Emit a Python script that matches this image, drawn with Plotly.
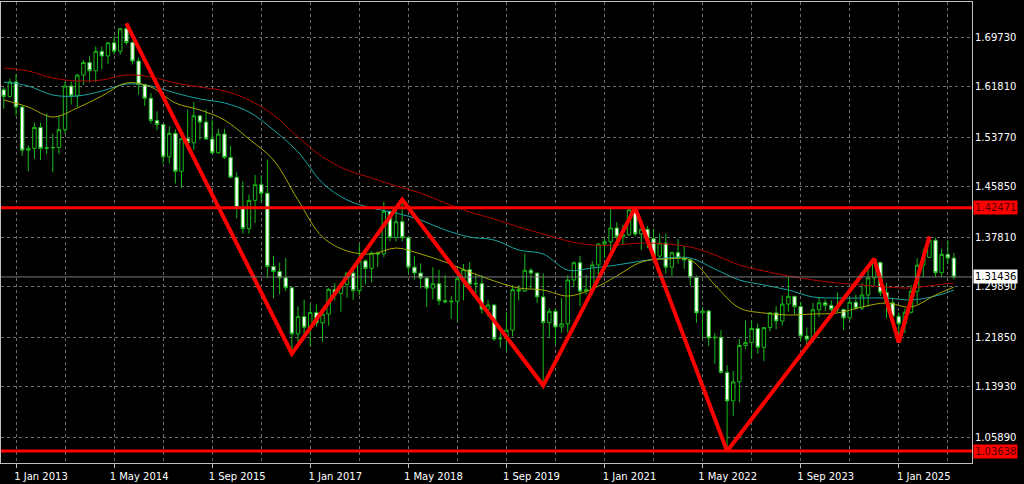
import plotly.graph_objects as go
import pandas as pd

# ---- data (GBPUSD monthly) ----
months = [p.strftime("%Y-%m") for p in pd.period_range("2012-11", "2025-10", freq="M")]

opens = [1.6130,1.6025,1.6255,1.5855,1.5165,1.5195,1.5530,1.5195,1.5205,1.5210,1.5495,1.6190,1.6035,1.6365,
         1.6565,1.6435,1.6745,1.6670,1.6880,1.6745,1.7105,1.6885,1.6590,1.6215,1.5995,1.5640,
         1.5575,1.5060,1.5435,1.4830,1.5350,1.5285,1.5715,1.5615,1.5345,1.5125,1.5425,1.5050,
         1.4735,1.4250,1.3915,1.4365,1.4615,1.4480,1.3310,1.3230,1.3130,1.2970,1.2235,1.2510,
         1.2340,1.2575,1.2410,1.2550,1.2945,1.2880,1.3025,1.3205,1.2925,1.3400,1.3280,1.3525,
         1.3510,1.4190,1.3775,1.4025,1.3770,1.3300,1.3205,1.3125,1.2965,1.3035,1.2765,1.2745,
         1.2755,1.3115,1.3260,1.3030,1.3040,1.2630,1.2695,1.2155,1.2160,1.2295,1.2940,1.2920,
         1.3250,1.3205,1.2825,1.2415,1.2595,1.2345,1.2395,1.3095,1.3370,1.2915,1.2945,1.3335,
         1.3670,1.3705,1.3925,1.3785,1.3815,1.4215,1.3830,1.3905,1.3755,1.3475,1.3685,1.3300,
         1.3530,1.3445,1.3415,1.3135,1.2570,1.2600,1.2170,1.2180,1.1620,1.1165,1.1470,1.2050,
         1.2095,1.2320,1.2020,1.2335,1.2570,1.2440,1.2710,1.2835,1.2670,1.2200,1.2150,1.2620,
         1.2730,1.2690,1.2625,1.2625,1.2490,1.2740,1.2645,1.2855,1.3130,1.3375,1.2895,1.2730,
         1.2515,1.2395,1.2580,1.2915,1.3330,1.3455,1.3730,1.3210,1.3505,1.3445]
highs = [1.6172,1.6309,1.6381,1.5880,1.5245,1.5605,1.5605,1.5752,1.5429,1.5717,1.6260,1.6260,1.6385,1.6605,
         1.6668,1.6823,1.6822,1.6883,1.6996,1.7110,1.7192,1.6905,1.6644,1.6226,1.6078,1.5786,
         1.5588,1.5552,1.5498,1.5498,1.5815,1.5930,1.5730,1.5819,1.5659,1.5509,1.5509,1.5240,
         1.4815,1.4668,1.4459,1.4770,1.4770,1.5018,1.3482,1.3373,1.3445,1.2975,1.2675,1.2775,
         1.2706,1.2706,1.2615,1.2965,1.3047,1.3030,1.3212,1.3268,1.3657,1.3420,1.3550,1.3550,
         1.4345,1.4195,1.4245,1.4377,1.3800,1.3473,1.3362,1.3140,1.3297,1.3257,1.3176,1.2840,
         1.3215,1.3350,1.3382,1.3197,1.3177,1.2783,1.2709,1.2249,1.2582,1.3012,1.3012,1.3515,
         1.3285,1.3210,1.3200,1.2647,1.2647,1.2813,1.3171,1.3395,1.3482,1.3177,1.3398,1.3675,
         1.3759,1.4241,1.4017,1.3976,1.4234,1.4250,1.3983,1.3958,1.3913,1.3834,1.3834,1.3546,
         1.3749,1.3644,1.3437,1.3167,1.2667,1.2617,1.2246,1.2293,1.1737,1.1646,1.2154,1.2447,
         1.2448,1.2402,1.2343,1.2584,1.2680,1.2849,1.3143,1.2840,1.2746,1.2337,1.2733,1.2828,
         1.2785,1.2773,1.2894,1.2635,1.2800,1.2860,1.3044,1.3266,1.3434,1.3391,1.3048,1.2811,
         1.2576,1.2640,1.3015,1.3444,1.3593,1.3789,1.3770,1.3595,1.3727,1.3527]
lows = [1.5827,1.6003,1.5720,1.5072,1.4831,1.5030,1.5007,1.5103,1.4813,1.5102,1.5425,1.5895,1.5855,1.6210,
        1.6250,1.6253,1.6460,1.6540,1.6692,1.6692,1.6848,1.6535,1.6051,1.5875,1.5590,1.5486,
        1.4952,1.4953,1.4634,1.4565,1.5170,1.5170,1.5330,1.5330,1.5107,1.5107,1.5027,1.4725,
        1.4080,1.3835,1.3835,1.4006,1.4331,1.3122,1.2798,1.2865,1.2914,1.1920,1.2082,1.2200,
        1.2050,1.2345,1.2108,1.2365,1.2772,1.2589,1.2810,1.2774,1.2854,1.3027,1.3062,1.3302,
        1.3457,1.3712,1.3711,1.3711,1.3205,1.3100,1.2957,1.2662,1.2785,1.2695,1.2723,1.2477,
        1.2440,1.2772,1.2945,1.2866,1.2558,1.2507,1.2119,1.2015,1.1958,1.2194,1.2769,1.2902,
        1.2954,1.2725,1.1410,1.2165,1.2076,1.2252,1.2254,1.2981,1.2676,1.2863,1.2854,1.3134,
        1.3451,1.3567,1.3670,1.3669,1.3801,1.3787,1.3572,1.3602,1.3412,1.3434,1.3194,1.3161,
        1.3358,1.3272,1.3001,1.2410,1.2155,1.2041,1.1760,1.1600,1.0364,1.0925,1.1146,1.1991,
        1.1840,1.1915,1.1803,1.2275,1.2308,1.2369,1.2590,1.2547,1.2110,1.2037,1.2096,1.2500,
        1.2597,1.2518,1.2575,1.2299,1.2446,1.2613,1.2614,1.2665,1.3001,1.2840,1.2487,1.2475,
        1.2100,1.2249,1.2560,1.2708,1.3140,1.3445,1.3140,1.3142,1.3350,1.3107]
closes = [1.6025,1.6255,1.5855,1.5165,1.5195,1.5530,1.5195,1.5205,1.5210,1.5495,1.6190,1.6035,1.6365,1.6565,
          1.6435,1.6745,1.6670,1.6880,1.6745,1.7105,1.6885,1.6590,1.6215,1.5995,1.5640,1.5575,
          1.5060,1.5435,1.4830,1.5350,1.5285,1.5715,1.5615,1.5345,1.5125,1.5425,1.5050,1.4735,
          1.4250,1.3915,1.4365,1.4615,1.4480,1.3310,1.3230,1.3130,1.2970,1.2235,1.2510,1.2340,
          1.2575,1.2410,1.2550,1.2945,1.2880,1.3025,1.3205,1.2925,1.3400,1.3280,1.3525,1.3510,
          1.4190,1.3775,1.4025,1.3770,1.3300,1.3205,1.3125,1.2965,1.3035,1.2765,1.2745,1.2755,
          1.3115,1.3260,1.3030,1.3040,1.2630,1.2695,1.2155,1.2160,1.2295,1.2940,1.2920,1.3250,
          1.3205,1.2825,1.2415,1.2595,1.2345,1.2395,1.3095,1.3370,1.2915,1.2945,1.3335,1.3670,
          1.3705,1.3925,1.3785,1.3815,1.4215,1.3830,1.3905,1.3755,1.3475,1.3685,1.3300,1.3530,
          1.3445,1.3415,1.3135,1.2570,1.2600,1.2170,1.2180,1.1620,1.1165,1.1470,1.2050,1.2095,
          1.2320,1.2020,1.2335,1.2570,1.2440,1.2710,1.2835,1.2670,1.2200,1.2150,1.2620,1.2730,
          1.2690,1.2625,1.2625,1.2490,1.2740,1.2645,1.2855,1.3130,1.3375,1.2895,1.2730,1.2515,
          1.2395,1.2580,1.2915,1.3330,1.3455,1.3730,1.3210,1.3505,1.3445,1.31436]

# moving averages, read every 4 months (plus last bar)
ma_months = months[0:153:4] + [months[-1]]
ma_fast = [1.5968,1.5856,1.5696,1.5840,1.6031,1.6239,1.6175,1.5920,1.5808,1.5648,1.5345,1.5010,1.4372,1.3781,
           1.3558,1.3510,1.3605,1.3510,1.3382,1.3222,1.3079,1.2967,1.2935,1.2839,1.2951,1.3159,1.3382,1.3430,
           1.3414,1.3015,1.2648,1.2568,1.2536,1.2552,1.2568,1.2664,1.2728,1.2664,1.2855,1.2983]
ma_mid = [1.6255,1.6191,1.6047,1.6031,1.6111,1.6223,1.6191,1.6079,1.5984,1.5920,1.5776,1.5489,1.5138,1.4643,
          1.4372,1.4244,1.4164,1.4052,1.3893,1.3781,1.3733,1.3574,1.3510,1.3254,1.3286,1.3334,1.3398,1.3446,
          1.3446,1.3270,1.3095,1.3015,1.2935,1.2823,1.2807,1.2807,1.2807,1.2776,1.2839,1.2935]
ma_slow = [1.6478,1.6430,1.6319,1.6271,1.6287,1.6367,1.6335,1.6239,1.6175,1.6111,1.5968,1.5728,1.5377,1.5058,
           1.4850,1.4723,1.4595,1.4483,1.4324,1.4180,1.4068,1.3941,1.3829,1.3717,1.3653,1.3653,1.3685,1.3669,
           1.3621,1.3494,1.3334,1.3238,1.3159,1.3095,1.3047,1.3015,1.2983,1.2967,1.3015,1.3047]

# zigzag pivots
zz_months = ["2014-07", "2016-10", "2018-04", "2020-03", "2021-06", "2022-09", "2024-09", "2025-01", "2025-06"]
zz_prices = [1.7192, 1.1920, 1.4377, 1.1410, 1.4250, 1.0364, 1.3434, 1.2100, 1.3789]

# horizontal levels
levels = [1.42471, 1.03638]
bid = 1.31436

# axis labels
y_ticks = [1.69730, 1.61810, 1.53770, 1.45850, 1.37810, 1.29890, 1.21850, 1.13930, 1.05890]
x_label_months = ["2013-01", "2014-05", "2015-09", "2017-01", "2018-05", "2019-09", "2021-01", "2022-05", "2023-09", "2025-01"]
x_label_text = ["1 Jan 2013", "1 May 2014", "1 Sep 2015", "1 Jan 2017", "1 May 2018", "1 Sep 2019",
                "1 Jan 2021", "1 May 2022", "1 Sep 2023", "1 Jan 2025"]

# ---- figure ----
idx = {m: i for i, m in enumerate(months)}
xs = list(range(len(months)))
GREEN = "#19b919"
FONT = "DejaVu Sans"

fig = go.Figure()
fig.add_trace(go.Candlestick(
    x=xs, open=opens, high=highs, low=lows, close=closes,
    increasing=dict(fillcolor="black", line=dict(color=GREEN, width=1)),
    decreasing=dict(fillcolor="white", line=dict(color=GREEN, width=1)),
    whiskerwidth=0, showlegend=False, hoverinfo="skip"))

for vals, col in [(ma_slow, "#b00000"), (ma_mid, "#1aa3a3"), (ma_fast, "#a8a800")]:
    fig.add_trace(go.Scatter(x=[idx[m] for m in ma_months], y=vals, mode="lines",
                             line=dict(color=col, width=1, shape="spline", smoothing=1.0),
                             showlegend=False, hoverinfo="skip"))

fig.add_hline(y=bid, line=dict(color="#7a7a7a", width=1))
for lv in levels:
    fig.add_hline(y=lv, line=dict(color="#ff0000", width=3))

fig.add_trace(go.Scatter(x=[idx[m] for m in zz_months], y=zz_prices, mode="lines",
                         line=dict(color="#ff0000", width=4), showlegend=False, hoverinfo="skip"))

for lv in levels:
    fig.add_annotation(x=1, xref="paper", y=lv, yref="y", xanchor="left", yanchor="middle",
                       text=f"{lv:.5f}", showarrow=False, bgcolor="#ff0000", borderpad=1, xshift=1,
                       font=dict(family=FONT, size=10, color="#500000"))
fig.add_annotation(x=1, xref="paper", y=bid, yref="y", xanchor="left", yanchor="middle",
                   text=f"{bid:.5f}", showarrow=False, bgcolor="white", borderpad=1, xshift=1,
                   font=dict(family=FONT, size=10, color="black"))

fig.update_layout(
    width=1024, height=484,
    margin=dict(l=1, r=52, t=2, b=21),
    paper_bgcolor="black", plot_bgcolor="black",
    font=dict(family=FONT, size=10, color="white"),
    showlegend=False,
    boxgap=0.2,
    xaxis=dict(
        range=[-0.45, 157.95], rangeslider=dict(visible=False),
        tickvals=[idx[m] for m in x_label_months], ticktext=x_label_text,
        ticks="outside", ticklen=4, tickcolor="#c0c0c0", ticklabelshift=25,
        showgrid=True, gridcolor="#6e6e6e", griddash="3px,3px", gridwidth=1,
        minor=dict(tick0=idx["2013-01"], dtick=8, showgrid=True, gridcolor="#6e6e6e",
                   griddash="3px,3px", gridwidth=1),
        showline=True, linecolor="#c0c0c0", linewidth=1, mirror=True, zeroline=False,
        tickfont=dict(family=FONT, size=10, color="white")),
    yaxis=dict(
        side="right", range=[1.01740, 1.75316],
        tickvals=y_ticks, ticktext=[f"{v:.5f}" for v in y_ticks],
        showgrid=True, gridcolor="#6e6e6e", griddash="3px,3px", gridwidth=1,
        showline=True, linecolor="#c0c0c0", linewidth=1, mirror=True, zeroline=False,
        tickfont=dict(family=FONT, size=10, color="white")),
)

fig.write_html("out.html", config={"displayModeBar": False},
               post_script="document.body.style.margin='0';document.body.style.overflow='hidden';")
